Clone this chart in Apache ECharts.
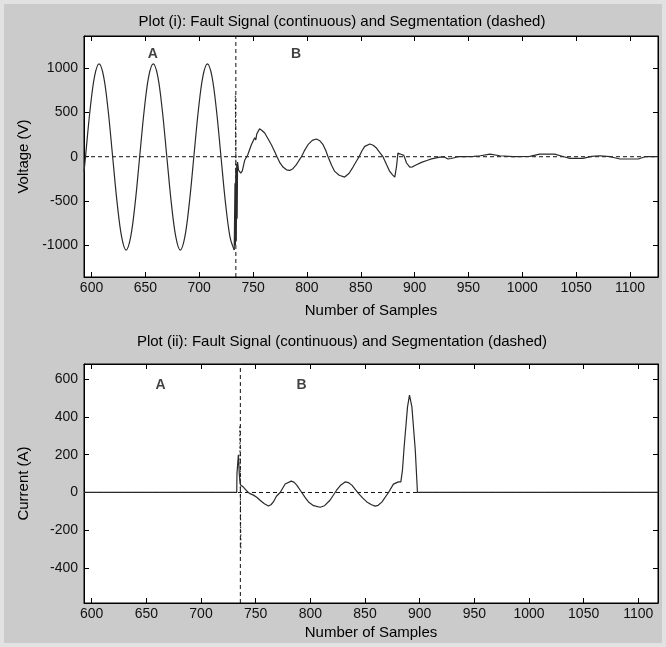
<!DOCTYPE html>
<html>
<head>
<meta charset="utf-8">
<script src="https://cdn.jsdelivr.net/npm/echarts@6/dist/echarts.min.js"></script>
<style>
  html, body { margin: 0; padding: 0; background: #e2e2e2; }
  #frame { position: absolute; left: 4px; top: 4px; width: 658px; height: 639px; background: #cbcbcb; }
  #chart { position: absolute; left: 0; top: 0; width: 666px; height: 647px; }
</style>
</head>
<body>
<div id="frame"></div>
<div id="chart"></div>
<script>
// ---------- data ----------
const titleTop = 'Plot (i): Fault Signal (continuous) and Segmentation (dashed)';
const titleBottom = 'Plot (ii): Fault Signal (continuous) and Segmentation (dashed)';
const xTicks = [600, 650, 700, 750, 800, 850, 900, 950, 1000, 1050, 1100];
const voltageTicks = [-1000, -500, 0, 500, 1000];
const currentTicks = [-400, -200, 0, 200, 400, 600];

// Voltage: steady-state part (segment A) [sample, V]
const voltageSteady = [
  [593,-170],[594.4,0],[598.6,525],[602.8,909],[607,1050],[611.2,909],[615.4,525],[619.6,0],
  [623.8,-525],[628,-909],[632.1,-1055],[636.3,-909],[640.5,-525],[644.7,0],[648.9,525],
  [653.1,909],[657.3,1050],[661.5,909],[665.7,525],[669.9,0],[674.1,-525],[678.3,-909],
  [682.4,-1055],[686.6,-909],[690.8,-525],[695,0],[699.2,525],[703.4,909],[707.6,1050],
  [711.8,909],[716,525],[720.2,0],[724.4,-525],[728.6,-909],[732.5,-1055]
];
// Voltage: fault transient part (segment B) [sample, V]
const voltageFault = [
  [732.5,-1055],[733.2,-300],[733.6,-1000],[734,-150],[734.4,-950],[734.8,-80],[735.2,-700],
  [735.6,-60],[736.5,-150],[738.5,-185],[740,-160],[742.2,-40],[745,20],[748.4,136],[750,150],
  [751.5,215],[752.5,190],[753.5,260],[754.5,240],[756,315],[758,300],[760.8,268],[764,200],
  [767,136],[770,60],[772.2,0],[775,-70],[777.8,-117],[781,-148],[784,-155],[787,-135],
  [790.2,-90],[792.5,-45],[794.9,0],[798,75],[801,136],[805,185],[808.7,200],[812,180],
  [815,136],[817.5,70],[819.6,0],[823,-100],[825.8,-166],[830,-210],[835,-230],[839,-190],
  [842.8,-117],[845.5,-60],[848.4,0],[851,65],[853.7,117],[858.4,144],[861.5,130],[864.6,98],
  [867.5,50],[870.6,0],[874,-90],[876.9,-166],[879.5,-205],[881.6,-230],[883.2,-110],
  [884.5,40],[886,30],[887.8,25],[889,30],[890,15],[892.5,-71],[895.5,-117],[898,-115],
  [900.2,-100],[906.4,-64],[912,-40],[915.7,-25],[923.4,-5],[928,-5],[931,-26],[934,-20],
  [940.4,0],[948,0],[955,5],[961,11],[970,30],[979,11],[991.5,0],[1007,3],[1016,30],
  [1030,30],[1037.8,3],[1044.2,-19],[1056.3,-19],[1064.4,3],[1072,11],[1081.4,0],
  [1090.7,-26],[1107.7,-26],[1114,0],[1126,0]
];
const voltageSegX = 734;
const voltageSegSpike = [[733.5,690],[734.2,-300]];

// Current signal [sample, A]
const currentSignal = [
  [593,0],[732.7,0],[732.9,100],[733.8,100],[734.2,200],[735,100],[735.6,60],[736.2,40],
  [737.3,48],[738.5,30],[739.4,33],[741.9,8],[744.3,-5],[748,-14],[751,-25],[754,-41],
  [758,-60],[761.6,-72],[764,-65],[766.2,-50],[769,-20],[772.4,0],[777,45],[782.5,60],
  [785,55],[787.6,39],[792.2,0],[795,-25],[798.3,-50],[803,-70],[809,-78],[813,-70],
  [818,-41],[824,12],[828,40],[831.8,56],[835,52],[838,39],[844,-5],[848,-30],[851.7,-50],
  [856,-65],[859.3,-72],[862,-68],[865.4,-51],[871.5,0],[876,44],[880.6,56],[882.8,56],
  [884.3,120],[885.8,241],[888.9,453],[890.7,515],[892.9,453],[896,224],[898,0],[1118,0]
];
const currentSegX = 736;
const currentSegSpike = [[735.5,350],[736.5,-305]];

// Segment labels [sample, value, text]
const voltageLabels = [[657,1155,'A'],[790,1155,'B']];
const currentLabels = [[663,568,'A'],[792,568,'B']];

// axis ranges
const vX = [593, 1126], vY = [-1360, 1365];
const cX = [593, 1118], cY = [-585, 680];

// ---------- chart ----------
const FONT = 'Liberation Sans, Arial, Helvetica, sans-serif';
const lineCol = '#000';

function xAx(grid, range, pos, withLabel) {
  return {
    type: 'value', gridIndex: grid, position: pos, min: range[0], max: range[1],
    name: withLabel ? 'Number of Samples' : '', nameLocation: 'middle',
    nameGap: grid === 0 ? 26 : 22,
    nameTextStyle: { color: '#000', fontSize: 15, fontFamily: FONT },
    axisLine: { show: true, onZero: false, lineStyle: { color: lineCol, width: 1 } },
    axisTick: { show: true, inside: true, length: 5, customValues: xTicks, lineStyle: { color: lineCol } },
    axisLabel: { show: withLabel, customValues: xTicks, formatter: v => String(v),
      color: '#111', fontSize: 14, fontFamily: FONT, margin: 4 },
    splitLine: { show: false }
  };
}
function yAx(grid, range, pos, ticks, name) {
  return {
    type: 'value', gridIndex: grid, position: pos, min: range[0], max: range[1],
    name: name || '', nameLocation: 'middle', nameGap: 53, nameRotate: 90,
    nameTextStyle: { color: '#000', fontSize: 15, fontFamily: FONT },
    axisLine: { show: true, onZero: false, lineStyle: { color: lineCol, width: 1 } },
    axisTick: { show: true, inside: true, length: 5, customValues: ticks, lineStyle: { color: lineCol } },
    axisLabel: { show: !!name, customValues: ticks, formatter: v => String(v),
      color: '#111', fontSize: 14, fontFamily: FONT, margin: 6 },
    splitLine: { show: false }
  };
}
function sigLine(data, xi, yi, smooth) {
  return { type: 'line', xAxisIndex: xi, yAxisIndex: yi, data: data, symbol: 'none', smooth: smooth || false,
    lineStyle: { color: '#2a2a2a', width: 1.2 }, silent: true, animation: false, z: 3 };
}
function dashLine(data, xi, yi, dash) {
  return { type: 'line', xAxisIndex: xi, yAxisIndex: yi, data: data, symbol: 'none',
    lineStyle: { color: '#111', width: 1, type: dash || [4, 3] }, silent: true, animation: false, z: 2 };
}
function labels(data, xi, yi) {
  return { type: 'scatter', xAxisIndex: xi, yAxisIndex: yi, data: data, symbolSize: 1,
    itemStyle: { color: 'rgba(0,0,0,0)' }, silent: true, animation: false,
    label: { show: true, position: 'inside', formatter: p => p.data[2],
      fontWeight: 'bold', fontSize: 14, color: '#111', fontFamily: FONT } };
}

const chart = echarts.init(document.getElementById('chart'), null, { renderer: 'canvas' });
chart.setOption({
  backgroundColor: 'transparent',
  animation: false,
  graphic: [
    { type: 'text', x: 342, y: 22, silent: true,
      style: { text: titleTop, textAlign: 'center', textVerticalAlign: 'middle', fill: '#000', font: '15px ' + FONT } },
    { type: 'text', x: 342, y: 342, silent: true,
      style: { text: titleBottom, textAlign: 'center', textVerticalAlign: 'middle', fill: '#000', font: '15px ' + FONT } }
  ],
  grid: [
    { left: 84, top: 36, width: 574, height: 241, show: true, backgroundColor: '#fff', borderColor: '#000', borderWidth: 1 },
    { left: 84, top: 364, width: 574, height: 239, show: true, backgroundColor: '#fff', borderColor: '#000', borderWidth: 1 }
  ],
  xAxis: [
    xAx(0, vX, 'bottom', true), xAx(0, vX, 'top', false),
    xAx(1, cX, 'bottom', true), xAx(1, cX, 'top', false)
  ],
  yAxis: [
    yAx(0, vY, 'left', voltageTicks, 'Voltage (V)'), yAx(0, vY, 'right', voltageTicks, ''),
    yAx(1, cY, 'left', currentTicks, 'Current (A)'), yAx(1, cY, 'right', currentTicks, '')
  ],
  series: [
    dashLine([[vX[0], 0], [vX[1], 0]], 0, 0),
    dashLine([[voltageSegX, vY[0]], [voltageSegX, vY[1]]], 0, 0),
    dashLine(voltageSegSpike, 0, 0, [2, 2]),
    sigLine(voltageSteady, 0, 0, 0.35),
    sigLine(voltageFault, 0, 0),
    labels(voltageLabels, 0, 0),
    dashLine([[cX[0], 0], [cX[1], 0]], 2, 2),
    dashLine([[currentSegX, cY[0]], [currentSegX, cY[1]]], 2, 2),
    dashLine(currentSegSpike, 2, 2, [2, 2]),
    sigLine(currentSignal, 2, 2),
    labels(currentLabels, 2, 2)
  ]
});
</script>
</body>
</html>
